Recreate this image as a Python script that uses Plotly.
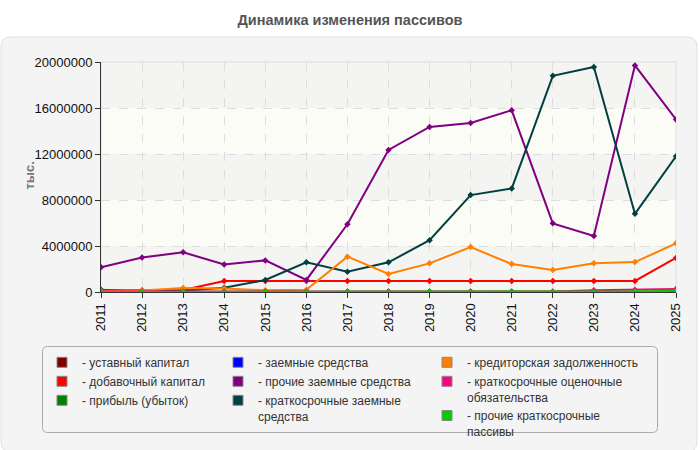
import plotly.graph_objects as go

years = list(range(2011, 2026))

names = [
    "уставный капитал",
    "добавочный капитал",
    "прибыль (убыток)",
    "заемные средства",
    "прочие заемные средства",
    "краткосрочные заемные<br>средства",
    "кредиторская задолженность",
    "краткосрочные оценочные<br>обязательства",
    "прочие краткосрочные<br>пассивы",
]
colors = ["#800000", "#ff0000", "#008000", "#0000ff", "#800080",
          "#004040", "#ff8000", "#ff0080", "#00cc00"]

ustavny = [10000, 10000, 10000, 10000, 10000, 10000, 10000, 10000, 10000, 10000, 10000, 10000, 10000, 10000, 10000]
dobavochny = [150000, 150000, 170000, 960000, 960000, 960000, 960000, 960000, 960000, 960000, 960000, 960000, 960000, 960000, 2960000]
pribyl = [0, 0, 0, 0, 0, 0, 0, 0, 0, 0, 0, 0, 0, 20000, 30000]
zaemnye = [0, 0, 0, 0, 0, 0, 0, 0, 0, 0, 0, 0, 0, 0, 0]
prochie_zaemnye = [2150000, 3000000, 3450000, 2400000, 2750000, 1050000, 5890000, 12350000, 14350000, 14700000, 15800000, 5970000, 4870000, 19700000, 15000000]
kratk_zaemnye = [200000, 30000, 100000, 370000, 1040000, 2580000, 1770000, 2580000, 4500000, 8430000, 9000000, 18800000, 19570000, 6800000, 11800000]
kreditorskaya = [100000, 120000, 350000, 300000, 150000, 200000, 3070000, 1570000, 2490000, 3910000, 2430000, 1910000, 2490000, 2600000, 4230000]
ocenochnye = [50000, 50000, 50000, 50000, 50000, 50000, 50000, 50000, 50000, 50000, 50000, 50000, 150000, 200000, 260000]
prochie_kratk = [0, 0, 0, 0, 0, 0, 0, 0, 0, 0, 0, 0, 0, 50000, 100000]

series = [ustavny, dobavochny, pribyl, zaemnye, prochie_zaemnye,
          kratk_zaemnye, kreditorskaya, ocenochnye, prochie_kratk]

y_ticks = [0, 4000000, 8000000, 12000000, 16000000, 20000000]

legend_ids = ["legend", "legend", "legend", "legend2", "legend2", "legend2",
              "legend3", "legend3", "legend3"]

fig = go.Figure()
for vals, c in zip(series, colors):
    fig.add_trace(go.Scatter(
        x=years, y=vals, mode="lines+markers",
        line=dict(color=c, width=2),
        marker=dict(symbol="diamond", size=5, color=c),
        showlegend=False, hoverinfo="skip"))

for n, c, lg in zip(names, colors, legend_ids):
    fig.add_trace(go.Scatter(
        x=[None], y=[None], mode="markers", name="- " + n, legend=lg,
        marker=dict(symbol="square", size=10, color=c,
                    line=dict(color="#888", width=1))))

W, H = 700, 450
L, R, T, B = 101, 24, 62, 158
PW, PH = W - L - R, H - T - B


def px(x):
    return (x - L) / PW


def py(y):
    return (H - B - y) / PH


def rounded(x0, y0, x1, y1, r):
    pts = [
        ("M", x0 + r, y0), ("L", x1 - r, y0), ("Q", x1, y0, x1, y0 + r),
        ("L", x1, y1 - r), ("Q", x1, y1, x1 - r, y1), ("L", x0 + r, y1),
        ("Q", x0, y1, x0, y1 - r), ("L", x0, y0 + r), ("Q", x0, y0, x0 + r, y0),
    ]
    s = ""
    for p in pts:
        cmd = p[0]
        coords = p[1:]
        parts = []
        for i in range(0, len(coords), 2):
            parts.append("%.5f,%.5f" % (px(coords[i]), py(coords[i + 1])))
        s += cmd + " ".join(parts) + " "
    return s + "Z"


shapes = [
    dict(type="path", xref="paper", yref="paper", layer="below",
         path=rounded(1, 37, 697, 452, 10),
         fillcolor="#f4f4f4", line=dict(color="#e0e0e0", width=1)),
]
band_cols = ["#f4f4f2", "#fcfcf6", "#f4f4f2", "#fcfcf6", "#f4f4f2"]
for i in range(len(y_ticks) - 1):
    shapes.append(dict(type="rect", xref="paper", yref="y", layer="below",
                       x0=0, x1=1, y0=y_ticks[i], y1=y_ticks[i + 1],
                       fillcolor=band_cols[i], line=dict(width=0)))
shapes.append(dict(type="rect", xref="paper", yref="paper", layer="below",
                   x0=0, x1=1, y0=0, y1=1, line=dict(color="#dddddd", width=1)))
shapes.append(dict(type="path", xref="paper", yref="paper", layer="below",
                   path=rounded(42.5, 346.5, 657.5, 432.5, 5),
                   fillcolor="#f4f4f4", line=dict(color="#aaaaaa", width=1)))

leg_common = dict(orientation="v", xanchor="left", yanchor="top",
                  bgcolor="rgba(0,0,0,0)", borderwidth=0, itemwidth=30,
                  font=dict(size=12, color="#333", family="Arial, Liberation Sans"),
                  valign="top", traceorder="normal", tracegroupgap=0)

fig.update_layout(
    width=W, height=H,
    margin=dict(l=L, r=R, t=T, b=B, autoexpand=False),
    paper_bgcolor="white", plot_bgcolor="rgba(0,0,0,0)",
    font=dict(family="Arial, Liberation Sans", size=13, color="#222"),
    title=dict(text="<b>Динамика изменения пассивов</b>", x=0.5, xanchor="center",
               y=1 - 20 / H, yanchor="middle", yref="container",
               font=dict(size=14.5, color="#555")),
    shapes=shapes,
    showlegend=True,
    legend=dict(x=px(42), y=py(348), **leg_common),
    legend2=dict(x=px(218), y=py(348), **leg_common),
    legend3=dict(x=px(427), y=py(348), **leg_common),
    annotations=[dict(text="<b>тыс.</b>", xref="paper", yref="paper",
                      x=px(19), y=py(176), textangle=-90, showarrow=False,
                      font=dict(size=13, color="#777"))],
)
fig.update_xaxes(range=[2011, 2025], tickmode="array", tickvals=years,
                 ticktext=[str(y) for y in years], tickangle=-90,
                 showgrid=True, gridcolor="#dddddd", griddash="dash",
                 showline=True, linecolor="#333", linewidth=1,
                 ticks="outside", ticklen=5, tickcolor="#333",
                 tickfont=dict(size=13, color="#111"), zeroline=False,
                 automargin=False)
fig.update_yaxes(range=[0, 20000000], tickmode="array", tickvals=y_ticks,
                 ticktext=[str(v) for v in y_ticks],
                 showgrid=True, gridcolor="#dddddd", griddash="dash",
                 showline=True, linecolor="#333", linewidth=1,
                 ticks="outside", ticklen=5, tickcolor="#333",
                 tickfont=dict(size=13, color="#111"), zeroline=False,
                 automargin=False)

fig.write_html("out.html")
